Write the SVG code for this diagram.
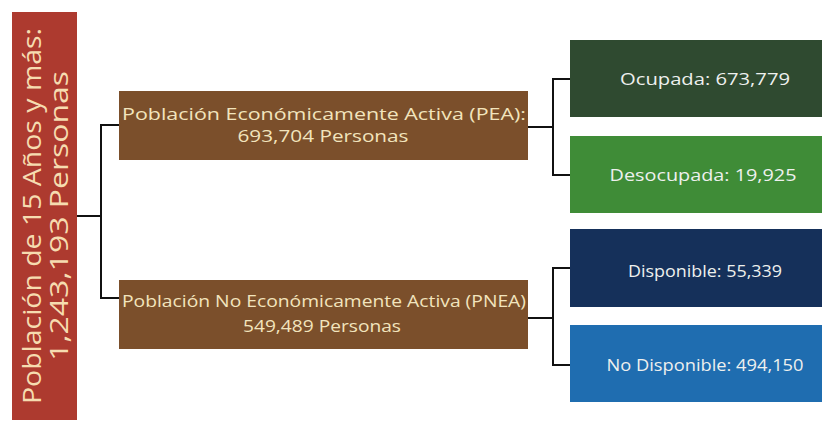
<svg xmlns="http://www.w3.org/2000/svg" width="824" height="422" viewBox="0 0 824 422">
<style>
.t{font-family:"Open Sans","Liberation Sans",sans-serif;text-anchor:middle;dominant-baseline:central}
.mid{font-size:16.5px;fill:#f2e4bd}
.right{font-size:17px;fill:#eef0ee}
.left{font-size:25px;fill:#f6dcb0}
.c{fill:none;stroke:#111;stroke-width:2}
</style>
<rect width="824" height="422" fill="#ffffff"/>
<g id="root">
<rect x="12" y="12" width="65" height="408" fill="#ad3a2f"/>
<g transform="translate(44,216) rotate(-90)">
<text class="t left" x="0" y="-13" textLength="376" lengthAdjust="spacingAndGlyphs">Población de 15 Años y más:</text>
<text class="t left" x="0" y="14" textLength="290" lengthAdjust="spacingAndGlyphs">1,243,193 Personas</text>
</g>
</g>
<g id="connectors">
<polyline class="c" points="77,216 101,216"/>
<polyline class="c" points="119,125 101,125 101,298 119,298"/>
<polyline class="c" points="528,127 553,127"/>
<polyline class="c" points="570,79 553,79 553,175 570,175"/>
<polyline class="c" points="528,318 553,318"/>
<polyline class="c" points="570,268 553,268 553,365 570,365"/>
</g>
<g id="pea">
<rect x="119" y="91" width="409" height="69" fill="#7b4f2b"/>
<text class="t mid" x="324" y="113" textLength="404" lengthAdjust="spacingAndGlyphs">Población Económicamente Activa (PEA):</text>
<text class="t mid" x="323" y="135" textLength="171" lengthAdjust="spacingAndGlyphs">693,704 Personas</text>
</g>
<g id="pnea">
<rect x="119" y="280" width="409" height="69" fill="#7b4f2b"/>
<text class="t mid" x="324" y="300" textLength="404" lengthAdjust="spacingAndGlyphs">Población No Económicamente Activa (PNEA)</text>
<text class="t mid" x="322" y="325" textLength="158" lengthAdjust="spacingAndGlyphs">549,489 Personas</text>
</g>
<g id="ocupada">
<rect x="570" y="40" width="252" height="77" fill="#2f4a30"/>
<text class="t right" x="705" y="78" textLength="170" lengthAdjust="spacingAndGlyphs">Ocupada: 673,779</text>
</g>
<g id="desocupada">
<rect x="570" y="136" width="252" height="77" fill="#3f8c37"/>
<text class="t right" x="703" y="174" textLength="187" lengthAdjust="spacingAndGlyphs">Desocupada: 19,925</text>
</g>
<g id="disponible">
<rect x="570" y="229" width="252" height="78" fill="#15305a"/>
<text class="t right" x="705" y="270" textLength="154" lengthAdjust="spacingAndGlyphs">Disponible: 55,339</text>
</g>
<g id="nodisponible">
<rect x="570" y="325" width="252" height="77" fill="#1f6db0"/>
<text class="t right" x="705" y="364" textLength="197" lengthAdjust="spacingAndGlyphs">No Disponible: 494,150</text>
</g>
</svg>
